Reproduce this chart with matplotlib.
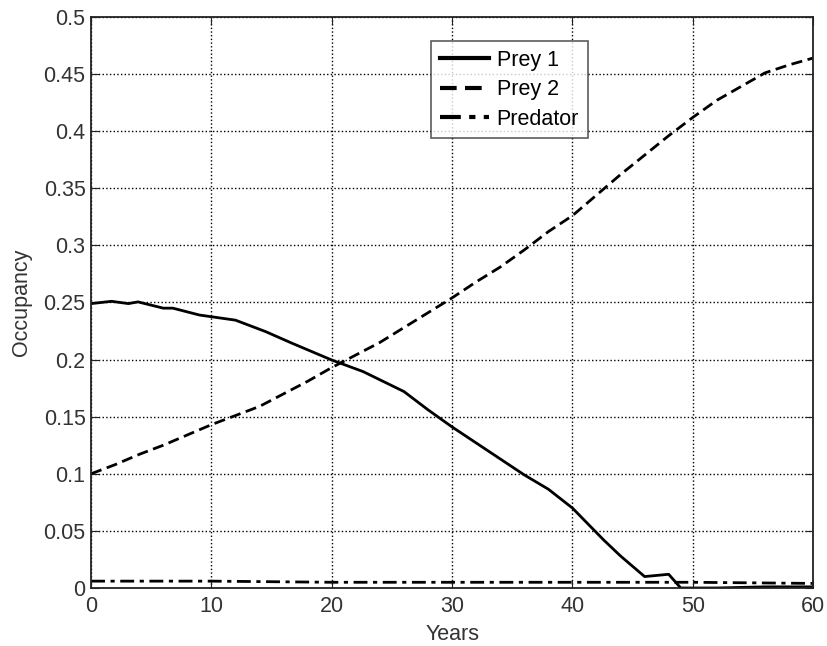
import matplotlib
matplotlib.use("Agg")
import matplotlib.pyplot as plt
from matplotlib.ticker import FuncFormatter

plt.rcParams['font.family'] = ['Liberation Sans', 'DejaVu Sans']

years_p1 = [0, 1.7, 3.1, 3.9, 6, 6.8, 9, 12, 14.5, 16.7, 20, 22.6, 26, 28, 30, 32, 34, 36, 38, 40, 42.6, 44, 46, 48, 49, 52, 56, 60]
prey1 = [0.249, 0.251, 0.249, 0.2505, 0.245, 0.245, 0.239, 0.2345, 0.2245, 0.2143, 0.1996, 0.1895, 0.172, 0.156, 0.141, 0.127, 0.113, 0.099, 0.0865, 0.070, 0.042, 0.028, 0.010, 0.012, 0.000, 0.000, 0.001, 0.001]

years_p2 = [0, 2, 4, 6, 8, 10, 12, 14, 16, 18, 20, 22, 24, 26, 28, 30, 32, 34, 36, 38, 40, 42, 44, 46, 48, 50, 52, 54, 56, 58, 60]
prey2 = [0.100, 0.108, 0.117, 0.125, 0.134, 0.143, 0.151, 0.159, 0.170, 0.181, 0.193, 0.204, 0.215, 0.228, 0.241, 0.254, 0.268, 0.281, 0.296, 0.312, 0.326, 0.344, 0.362, 0.379, 0.396, 0.412, 0.427, 0.439, 0.451, 0.458, 0.464]

years_pr = [0, 10, 20, 30, 40, 50, 60]
predator = [0.006, 0.006, 0.005, 0.005, 0.005, 0.005, 0.004]

fig = plt.figure(figsize=(8.28, 6.46), dpi=100)
ax = fig.add_axes([0.110, 0.0898, 0.872, 0.884])

ax.plot(years_p1, prey1, color='black', lw=2.0, ls='-', label='Prey 1')
ax.plot(years_p2, prey2, color='black', lw=2.0, ls=(0, (4, 2)), label='Prey 2')
ax.plot(years_pr, predator, color='black', lw=2.0, ls=(0, (5, 2, 1.5, 2)), label='Predator')

ax.set_xlim(0, 60)
ax.set_ylim(0, 0.5)
ax.set_xticks([0, 10, 20, 30, 40, 50, 60])
ax.set_yticks([0, 0.05, 0.1, 0.15, 0.2, 0.25, 0.3, 0.35, 0.4, 0.45, 0.5])
ax.yaxis.set_major_formatter(FuncFormatter(lambda v, p: '%g' % round(v, 2)))
ax.tick_params(direction='in', top=True, right=True, labelsize=15.5, length=6, colors='#222222', labelcolor='#333333')
ax.tick_params(axis='x', pad=6)
ax.tick_params(axis='y', pad=4)
ax.grid(True, color='black', ls=':', lw=1.0)
for s in ax.spines.values():
    s.set_color('#222222')
    s.set_linewidth(1.3)

ax.set_xlabel('Years', fontsize=15.5, color='#333333', labelpad=5)
ax.set_ylabel('Occupancy', fontsize=15.5, color='#333333', labelpad=8)

leg = ax.legend(loc='upper left', bbox_to_anchor=(0.4709, 0.958), fontsize=15.5, frameon=True,
                fancybox=False, edgecolor='#333333', handlelength=2.3, handletextpad=0.35,
                borderpad=0.4, labelspacing=0.4, borderaxespad=0)
leg.get_frame().set_linewidth(1.2)
for line in leg.get_lines():
    line.set_linewidth(3)

fig.savefig('out.png', dpi=100)
